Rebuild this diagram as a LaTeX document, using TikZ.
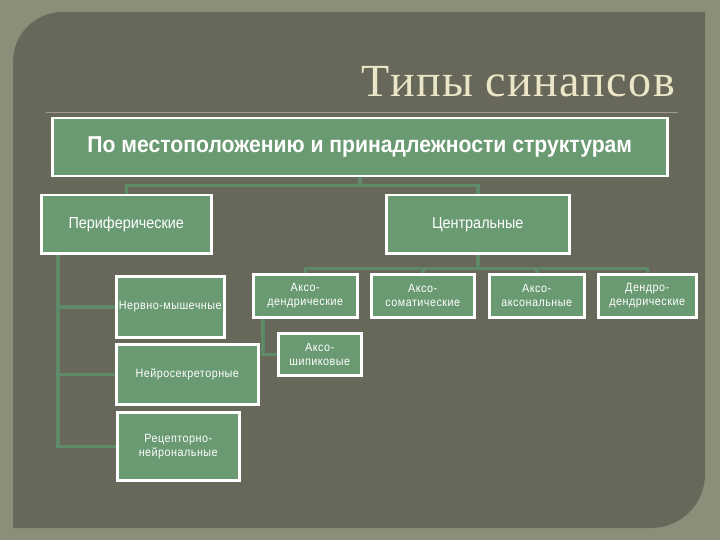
\documentclass[tikz,border=0pt]{standalone}
\usepackage{fontspec}
\usepackage{tikz}
\newfontfamily\titlefont[LetterSpace=3]{Liberation Serif}
\newfontfamily\boxfont[FakeStretch=0.9]{Liberation Sans}
\newfontfamily\headfont[FakeStretch=0.92]{Liberation Sans}
\newfontfamily\smallfont[FakeStretch=0.9, LetterSpace=4]{Liberation Sans}
\definecolor{outerbg}{HTML}{8D8E7A}
\definecolor{panelbg}{HTML}{68685A}
\definecolor{boxfill}{HTML}{6A9A72}
\definecolor{conncol}{HTML}{5E8A68}
\definecolor{titlecol}{HTML}{ECE6C9}
\tikzset{
    every node/.style={anchor=north west, inner sep=0pt, align=center,
        text=white, font=\boxfont}
}
\tikzset{
    box/.style={draw=white, fill=boxfill, line width=2.5pt},
    small/.style={font=\smallfont\fontsize{12}{14}\selectfont},
    conn/.style={draw=conncol, line width=3.5pt}
}
\pgfdeclarelayer{panel}
\pgfdeclarelayer{background}
\pgfsetlayers{panel,background,main}

\begin{document}
\begin{tikzpicture}[x=1pt, y=-1pt]
	\node (title) [anchor=base east, text=titlecol,
		font=\titlefont\fontsize{46}{50}\selectfont] at (675,97) {Типы синапсов};

	\node (top) [box, minimum width=615, minimum height=58,
		font=\headfont\bfseries\fontsize{23}{26}\selectfont] at (51,117)
		{По местоположению и принадлежности структурам};

	\node (per) [box, minimum width=170, minimum height=58,
		font=\boxfont\fontsize{16}{18}\selectfont] at (40,194) {Периферические};
	\node (cen) [box, minimum width=183, minimum height=58,
		font=\boxfont\fontsize{16}{18}\selectfont] at (385,194) {Центральные};

	\node (nm) [box, small, minimum width=108, minimum height=61] at (115,275) {Нервно-мышечные};
	\node (ns) [box, small, minimum width=142, minimum height=60] at (115,343) {Нейросекреторные};
	\node (rn) [box, small, minimum width=122, minimum height=68] at (116,411) {Рецепторно-\\нейрональные};

	\node (ad) [box, small, minimum width=104, minimum height=43] at (252,273) {Аксо-\\дендрические};
	\node (as) [box, small, minimum width=103, minimum height=43] at (370,273) {Аксо-\\соматические};
	\node (aa) [box, small, minimum width=95, minimum height=43] at (488,273) {Аксо-\\аксональные};
	\node (dd) [box, small, minimum width=98, minimum height=43] at (597,273) {Дендро-\\дендрические};
	\node (ash) [box, small, minimum width=83, minimum height=42] at (277,332) {Аксо-\\шипиковые};

	\coordinate (pb) at (58,252);
	\coordinate (ab) at (263,316);

	\begin{pgfonlayer}{panel}
	\fill[outerbg] (0,0) rectangle (720,540);
	\fill[panelbg] (13,528) -- (13,62) .. controls (13,34) and (35,12) .. (63,12)
		-- (705,12) -- (705,474) .. controls (705,504) and (681,528) .. (651,528) -- cycle;
	\draw[white, opacity=0.35, line width=0.8pt] (46,112) -- (678,112);
	\end{pgfonlayer}

	\begin{pgfonlayer}{background}
	\draw[conn] (top.south) -- ++(0,8) -| (per.north);
	\draw[conn] (top.south) -- ++(0,8) -| (cen.north);
	\draw[conn] (pb) |- (nm.west); \draw[conn] (pb) |- (ns.west);
	\draw[conn] (pb) |- (rn.west);
	\draw[conn] (cen.south) -- ++(0,14) -| (ad.north);
	\draw[conn] (cen.south) -- ++(0,14) -| (as.north);
	\draw[conn] (cen.south) -- ++(0,14) -| (aa.north);
	\draw[conn] (cen.south) -- ++(0,14) -| (dd.north);
	\draw[conn] (ab) |- (ash.west);
	\end{pgfonlayer}
\end{tikzpicture}
\end{document}
